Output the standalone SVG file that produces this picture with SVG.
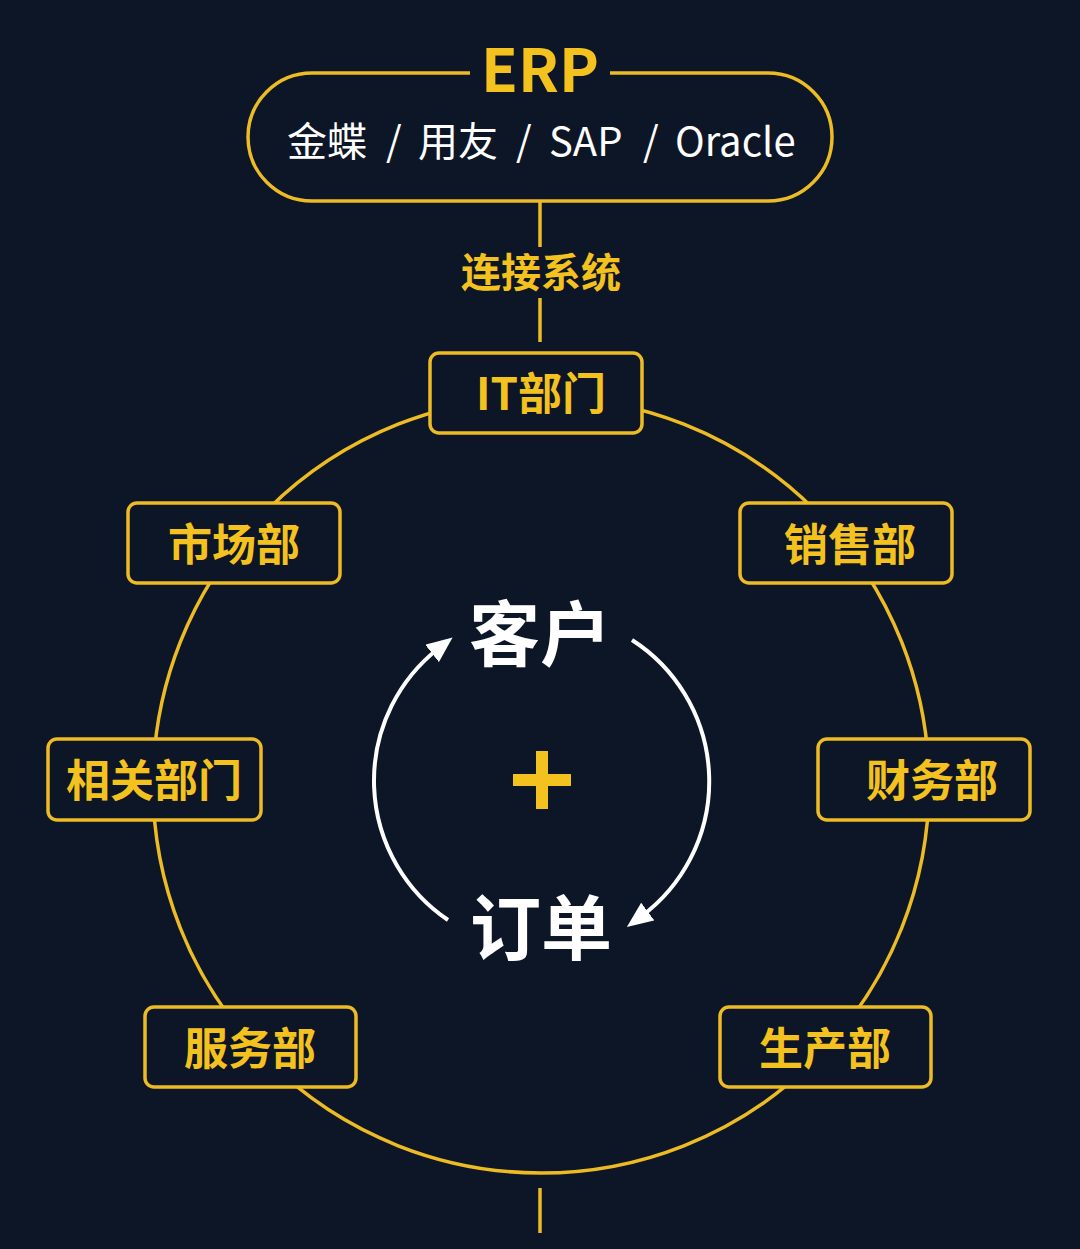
<svg xmlns="http://www.w3.org/2000/svg" width="1080" height="1249" viewBox="0 0 1080 1249">
<style>
.ln{fill:none;stroke:#EDBB24;stroke-width:3.5}
.box{fill:#0D1626;stroke:#EDBB24;stroke-width:3.5}
.lbl{font-family:"Noto Sans CJK SC","Noto Sans",sans-serif;font-weight:700;font-size:44px;fill:#F4C21F;text-anchor:middle}
.big{font-family:"Noto Sans CJK SC","Noto Sans",sans-serif;font-weight:700;font-size:71px;fill:#FFFFFF;text-anchor:middle}
.sub{font-family:"Noto Sans CJK SC","Noto Sans",sans-serif;font-weight:400;font-size:40px;fill:#FFFFFF}
.arc{fill:none;stroke:#FFFFFF;stroke-width:4}
</style>
<defs>
<marker id="ah" markerUnits="userSpaceOnUse" markerWidth="26" markerHeight="22" viewBox="0 0 26 22" refX="8" refY="11" orient="auto">
<path d="M0,0 L26,11 L0,22 z" fill="#FFFFFF"/>
</marker>
</defs>
<rect width="1080" height="1249" fill="#0D1626"/>

<g id="connectors">
<circle class="ln" cx="541" cy="785" r="388"/>
<line class="ln" x1="540" y1="201" x2="540" y2="247"/>
<line class="ln" x1="540" y1="298" x2="540" y2="342"/>
<line class="ln" x1="540" y1="1188" x2="540" y2="1233"/>
<path class="arc" d="M448,920 A168,168 0 0 1 438.4,648.5" marker-end="url(#ah)"/>
<path class="arc" d="M632,640 A168,168 0 0 1 641.3,916.3" marker-end="url(#ah)"/>
</g>

<g id="erp">
<path class="ln" d="M470,73 H312 A64,64 0 0 0 248,137 A64,64 0 0 0 312,201 H768 A64,64 0 0 0 832,137 A64,64 0 0 0 768,73 H610"/>
<text x="540" y="92" class="lbl" style="font-size:60px">ERP</text>
<text class="sub" y="156"><tspan x="287">金蝶</tspan><tspan x="386">/</tspan><tspan x="418">用友</tspan><tspan x="516">/</tspan><tspan x="549">SAP</tspan><tspan x="643">/</tspan><tspan x="675">Oracle</tspan></text>
</g>

<g id="link-label">
<text x="541" y="287" class="lbl" style="font-size:40px">连接系统</text>
</g>

<g id="it">
<rect class="box" x="430" y="353" width="212" height="80" rx="9"/>
<text x="541" y="410" class="lbl">IT部门</text>
</g>
<g id="market">
<rect class="box" x="128" y="503" width="212" height="80" rx="9"/>
<text x="234" y="561" class="lbl">市场部</text>
</g>
<g id="sales">
<rect class="box" x="740" y="503" width="212" height="80" rx="9"/>
<text x="850" y="561" class="lbl">销售部</text>
</g>
<g id="related">
<rect class="box" x="48" y="739" width="213" height="81" rx="9"/>
<text x="154" y="797" class="lbl">相关部门</text>
</g>
<g id="finance">
<rect class="box" x="818" y="739" width="212" height="81" rx="9"/>
<text x="932" y="797" class="lbl">财务部</text>
</g>
<g id="service">
<rect class="box" x="145" y="1007" width="211" height="80" rx="9"/>
<text x="250" y="1065" class="lbl">服务部</text>
</g>
<g id="production">
<rect class="box" x="720" y="1007" width="211" height="80" rx="9"/>
<text x="825" y="1065" class="lbl">生产部</text>
</g>

<g id="center">
<text x="540" y="660" class="big">客户</text>
<text x="541" y="954" class="big">订单</text>
<rect x="513" y="774" width="58" height="12" fill="#F4C21F"/>
<rect x="536" y="751" width="12" height="58" fill="#F4C21F"/>
</g>
</svg>
